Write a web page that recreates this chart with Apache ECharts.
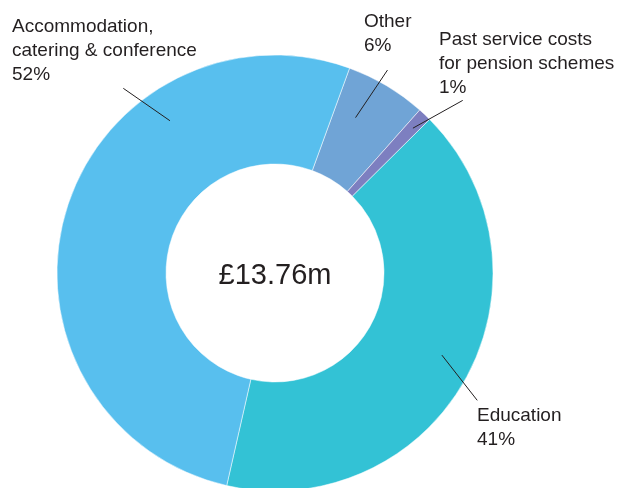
<!DOCTYPE html>
<html>
<head>
<meta charset="utf-8">
<script src="https://cdn.jsdelivr.net/npm/echarts@6/dist/echarts.min.js"></script>
<style>html,body{margin:0;padding:0;background:#fff}#c{width:620px;height:488px}</style>
</head>
<body>
<div id="c"></div>
<script>
// Data
const categories = ['Other', 'Past service costs\nfor pension schemes', 'Education', 'Accommodation,\ncatering & conference'];
const percentages = [6, 1, 41, 52];
const colors = ['#70a4d6', '#7d7fc0', '#33c2d5', '#58bfee'];
const totalLabel = '£13.76m';

// Layout (annotation placement only)
const CENTER = [275, 273];
const RADIUS = [109, 218];
// leader line: start/end in polar (deg clockwise from top, px radius); text box top-left
const labelPlacement = [
  { a0: 27.4, r0: 175, a1: 29.0, r1: 232, tx: 364, ty: 10 },
  { a0: 43.6, r0: 200, a1: 47.4, r1: 255, tx: 439, ty: 28 },
  { a0: 116.2, r0: 186, a1: 122.2, r1: 239, tx: 477, ty: 404 },
  { a0: 325.4, r0: 185, a1: 320.6, r1: 239, tx: 12, ty: 14.5 }
];
function polar(a, r) {
  const t = a * Math.PI / 180;
  return [CENTER[0] + r * Math.sin(t), CENTER[1] - r * Math.cos(t)];
}

const chart = echarts.init(document.getElementById('c'), null, { renderer: 'canvas' });
const FONT = "'Liberation Sans', Arial, sans-serif";
const pieData = categories.map((c, i) => ({ name: c, value: percentages[i], itemStyle: { color: colors[i] } }));
chart.setOption({
  animation: false,
  title: {
    text: totalLabel,
    left: CENTER[0],
    top: CENTER[1] + 3,
    padding: 0,
    textAlign: 'center',
    textVerticalAlign: 'middle',
    textStyle: { fontFamily: FONT, fontSize: 29, fontWeight: 'normal', color: '#231f20' }
  },
  series: [{
    type: 'pie',
    z: 2,
    center: CENTER,
    radius: RADIUS,
    startAngle: 70,
    clockwise: true,
    itemStyle: { borderColor: '#ffffff', borderWidth: 0.5 },
    label: { show: false },
    labelLine: { show: false },
    emphasis: { disabled: true },
    data: pieData
  }, {
    // overlay carrying the labels and leader lines above the ring
    type: 'pie',
    z: 3,
    silent: true,
    center: CENTER,
    radius: RADIUS,
    startAngle: 70,
    clockwise: true,
    avoidLabelOverlap: false,
    itemStyle: { color: 'rgba(0,0,0,0)', borderWidth: 0 },
    label: {
      show: true,
      position: 'outside',
      formatter: p => p.name + '\n' + p.value + '%',
      fontFamily: FONT,
      fontSize: 19,
      lineHeight: 24,
      color: '#231f20'
    },
    labelLine: {
      show: true,
      length: 10,
      length2: 10,
      lineStyle: { color: '#231f20', width: 1 }
    },
    emphasis: { disabled: true },
    labelLayout: function (params) {
      const pl = labelPlacement[params.dataIndex];
      return {
        x: pl.tx,
        y: pl.ty,
        align: 'left',
        verticalAlign: 'top',
        labelLinePoints: [polar(pl.a0, pl.r0), polar(pl.a1, pl.r1), polar(pl.a1, pl.r1)]
      };
    },
    data: pieData.map(d => ({ name: d.name, value: d.value }))
  }]
});
</script>
</body>
</html>
